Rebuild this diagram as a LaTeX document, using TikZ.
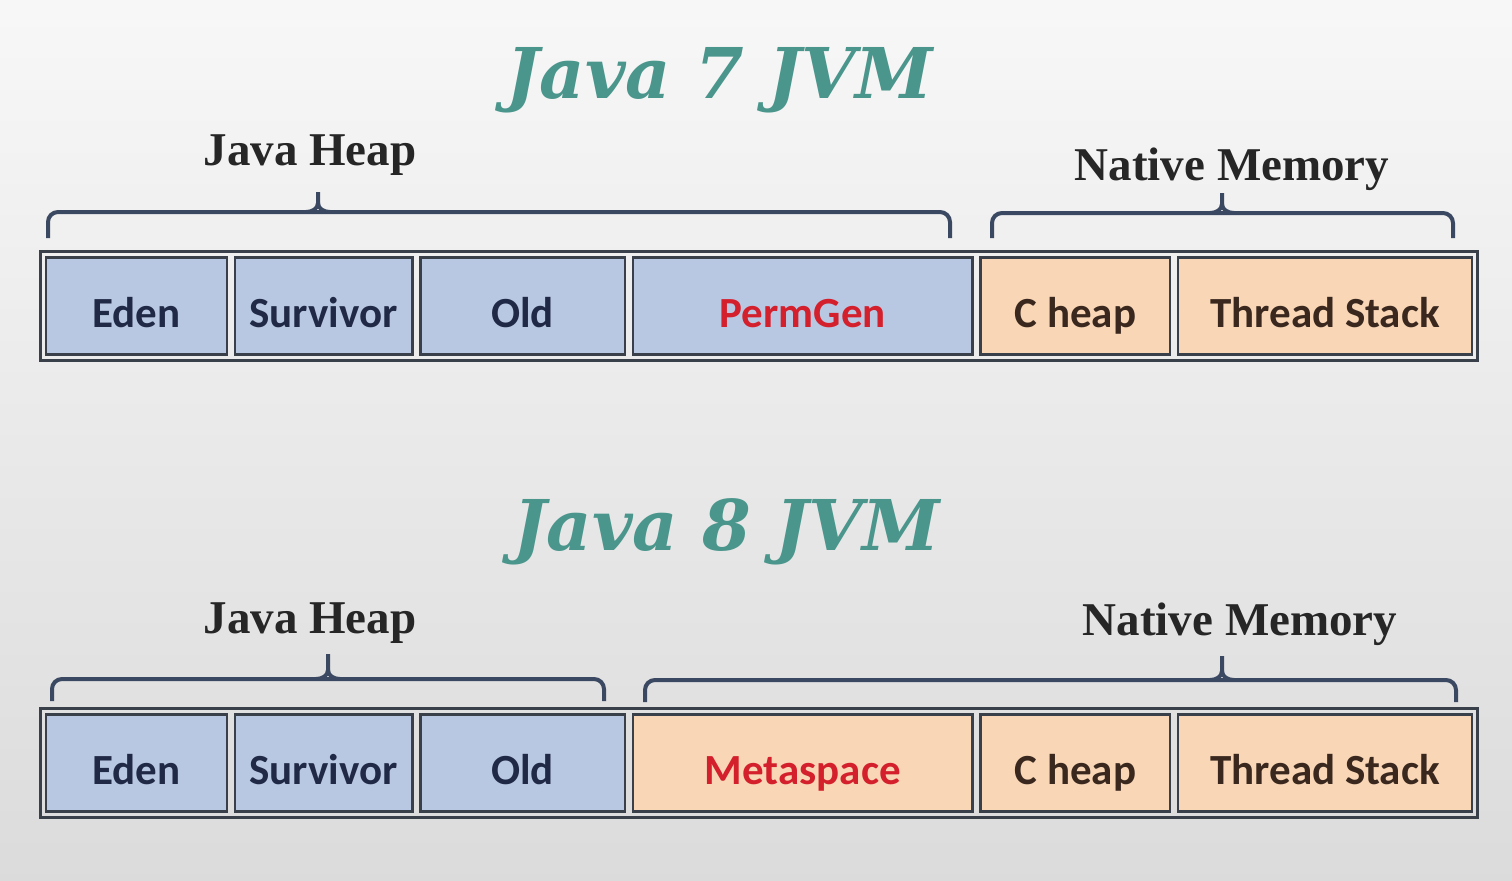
\documentclass[tikz,border=0pt]{standalone}
\usepackage{fontspec}
\setmainfont{Liberation Serif}
\newfontfamily\cellfont{Carlito}
\newfontfamily\titlefont{DejaVu Serif}
\usetikzlibrary{positioning,fit,backgrounds}
\definecolor{heapblue}{RGB}{185,200,226}
\definecolor{nativeorange}{RGB}{248,214,182}
\definecolor{cellline}{RGB}{58,64,74}
\definecolor{bracecol}{RGB}{58,72,98}
\definecolor{titleteal}{RGB}{74,150,140}
\definecolor{permred}{RGB}{212,32,44}
\definecolor{celltext}{RGB}{32,42,70}
\definecolor{nativetext}{RGB}{58,40,30}

\begin{document}
\begin{tikzpicture}[x=0.5pt,y=-0.5pt,
  cell/.style={rectangle,draw=cellline,line width=1.2pt,minimum height=48.5pt,inner sep=0pt,
               text height=21pt,text depth=0pt,
               font=\cellfont\bfseries\fontsize{21.5}{24}\selectfont,text=celltext},
  heap/.style={cell,fill=heapblue},
  native/.style={cell,fill=nativeorange,text=nativetext},
  gone/.style={text=permred},
  frame/.style={rectangle,draw=cellline,line width=1.4pt,inner sep=2.4pt},
  bracket/.style={draw=bracecol,line width=2pt,rounded corners=5pt},
  tip/.style={draw=bracecol,line width=2pt},
  title/.style={font=\titlefont\bfseries\itshape\fontsize{35}{40}\selectfont,text=titleteal},
  region/.style={font=\bfseries\fontsize{23.5}{26}\selectfont,text=black!85,inner sep=0pt},
]
\shade[top color=white!97!black,middle color=white!95!black,bottom color=white!86!black]
  (0,0) rectangle (1512,880);
\useasboundingbox (0,0) rectangle (1512,880);

% ---------- Java 7 ----------
\node[title] (t7) at (720,80) {Java 7 JVM};
\node[heap,minimum width=90.3pt,anchor=west] (eden7) at (45,306) {Eden};
\node[heap,minimum width=88.8pt,right=2.8pt of eden7] (surv7) {Survivor};
\node[heap,minimum width=102.3pt,right=2.8pt of surv7] (old7) {Old};
\node[heap,gone,minimum width=169.8pt,right=2.8pt of old7] (perm7) {PermGen};
\node[native,minimum width=94.8pt,right=2.8pt of perm7] (chp7) {C heap};
\node[native,minimum width=146.8pt,right=2.8pt of chp7] (stk7) {Thread Stack};
\node[frame,fit=(eden7)(stk7)] (jvm7) {};

\coordinate (hp7) at (318,192);
\coordinate (nm7) at (1222,193);
\draw[bracket] (48,238) -- (48,212) -- (950,212) -- (950,238);
\draw[tip] (306,212) to[out=0,in=-90] (318,203) -- (hp7);
\draw[tip] (330,212) to[out=180,in=-90] (318,203);
\draw[bracket] (992,238) -- (992,213) -- (1453,213) -- (1453,238);
\draw[tip] (1210,213) to[out=0,in=-90] (1222,204) -- (nm7);
\draw[tip] (1234,213) to[out=180,in=-90] (1222,204);
\node[region,above=8pt of hp7,xshift=-4pt] (hl7) {Java Heap};
\node[region,above=1pt of nm7,xshift=5pt] (nl7) {Native Memory};

% ---------- Java 8 ----------
\node[title] (t8) at (727,532) {Java 8 JVM};
\node[heap,minimum width=90.3pt,anchor=west] (eden8) at (45,763) {Eden};
\node[heap,minimum width=88.8pt,right=2.8pt of eden8] (surv8) {Survivor};
\node[heap,minimum width=102.3pt,right=2.8pt of surv8] (old8) {Old};
\node[native,gone,minimum width=169.8pt,right=2.8pt of old8] (meta8) {Metaspace};
\node[native,minimum width=94.8pt,right=2.8pt of meta8] (chp8) {C heap};
\node[native,minimum width=146.8pt,right=2.8pt of chp8] (stk8) {Thread Stack};
\node[frame,fit=(eden8)(stk8)] (jvm8) {};

\coordinate (hp8) at (328,654);
\coordinate (nm8) at (1222,656);
\draw[bracket] (52,701) -- (52,679) -- (604,679) -- (604,701);
\draw[tip] (316,679) to[out=0,in=-90] (328,670) -- (hp8);
\draw[tip] (340,679) to[out=180,in=-90] (328,670);
\draw[bracket] (645,702) -- (645,680) -- (1456,680) -- (1456,702);
\draw[tip] (1210,680) to[out=0,in=-90] (1222,671) -- (nm8);
\draw[tip] (1234,680) to[out=180,in=-90] (1222,671);
\node[region,above=5pt of hp8,xshift=-9pt] (hl8) {Java Heap};
\node[region,above=5pt of nm8,xshift=9pt] (nl8) {Native Memory};
\end{tikzpicture}
\end{document}
